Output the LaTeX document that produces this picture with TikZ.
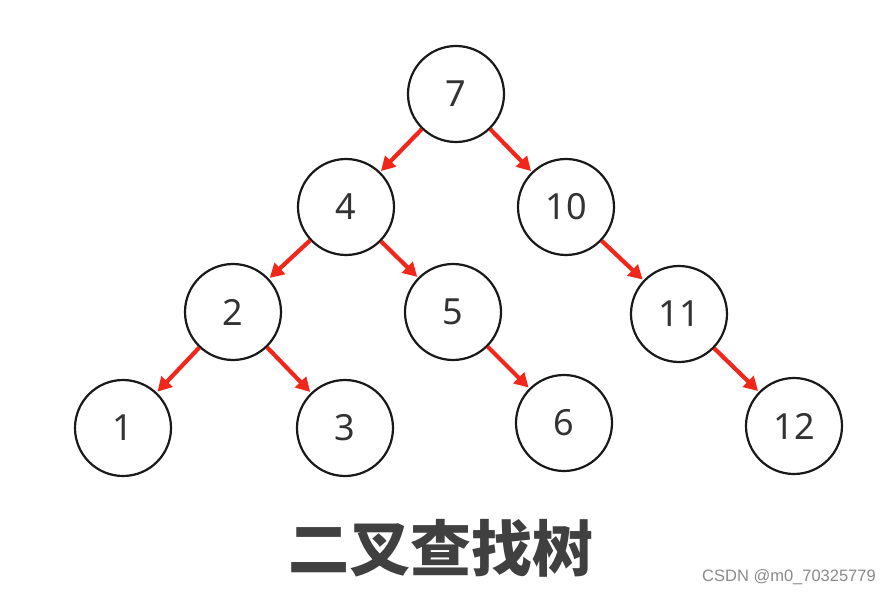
\documentclass[tikz,border=0pt]{standalone}
\usepackage{fontspec}
\setmainfont{Noto Sans}
\newfontfamily\cjk{Noto Sans CJK SC}
\newfontfamily\wmfont{Liberation Sans}
\usetikzlibrary{arrows.meta}
\definecolor{edgered}{HTML}{F2271C}
\definecolor{numgray}{HTML}{333333}
\definecolor{titlegray}{HTML}{404040}
\definecolor{wmgray}{HTML}{8A8A8A}
\begin{document}
\begin{tikzpicture}[x=1pt,y=-1pt,
  treenode/.style={circle,draw=black!90,line width=2.2pt,minimum size=96pt,inner sep=0pt,
    text=numgray,font=\fontsize{36}{40}\selectfont},
  edge/.style={draw=edgered,line width=4.2pt,-{Triangle[length=14pt,width=15pt]},shorten >=1pt}]
\useasboundingbox[fill=white] (0,0) rectangle (892,594);
\node[treenode] (n7) at (456,94) {7};
\node[treenode] (n4) at (346,207) {4};
\node[treenode] (n10) at (566,207) {10};
\node[treenode] (n2) at (233,312) {2};
\node[treenode] (n5) at (453,312) {5};
\node[treenode] (n11) at (679,314) {11};
\node[treenode] (n1) at (123,428) {1};
\node[treenode] (n3) at (345,428) {3};
\node[treenode] (n6) at (564,423) {6};
\node[treenode] (n12) at (794,426) {12};
\draw[edge] (n7) -- (n4);
\draw[edge] (n7) -- (n10);
\draw[edge] (n4) -- (n2);
\draw[edge] (n4) -- (n5);
\draw[edge] (n2) -- (n1);
\draw[edge] (n2) -- (n3);
\draw[edge] (n5) -- (n6);
\draw[edge] (n10) -- (n11);
\draw[edge] (n11) -- (n12);
\node[text=titlegray,font=\cjk\bfseries\fontsize{61}{66}\selectfont] (title) at (441,548) {二叉查找树};
\node[text=wmgray,font=\wmfont\fontsize{16.5}{18}\selectfont] (wm) at (789,577) {CSDN @m0\_70325779};
\end{tikzpicture}
\end{document}
